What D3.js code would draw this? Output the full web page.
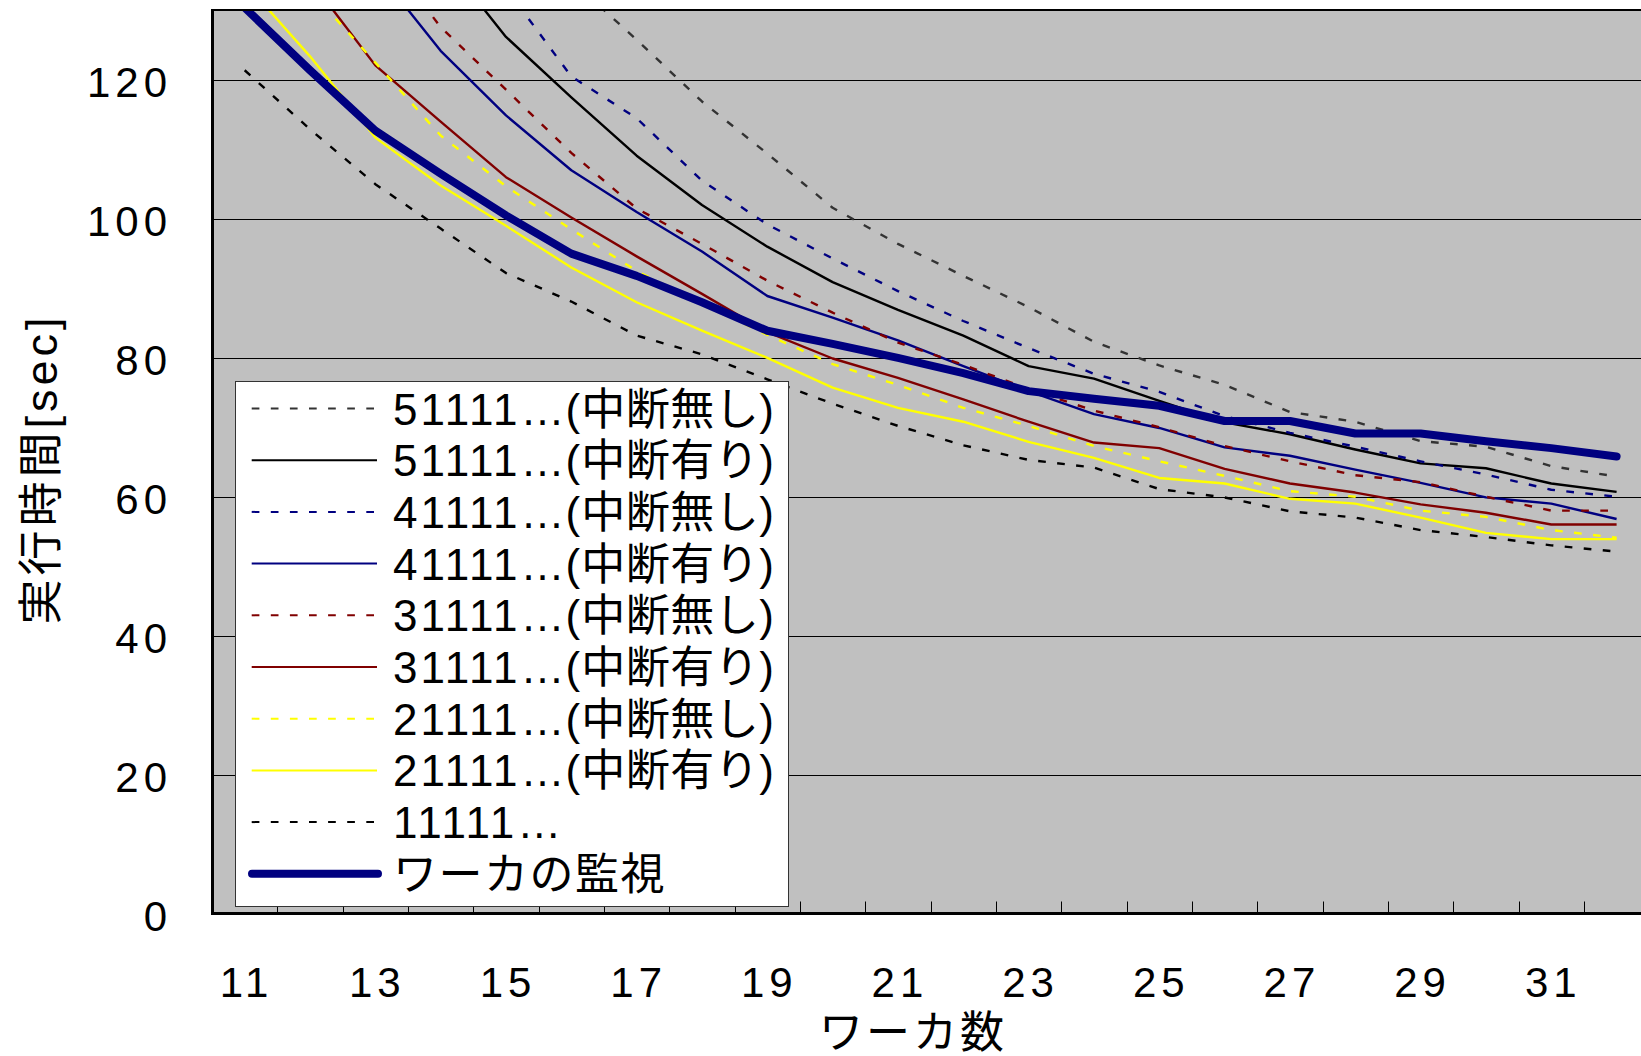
<!DOCTYPE html>
<html>
<head>
<meta charset="utf-8">
<script src="https://cdn.jsdelivr.net/npm/d3@7"></script>
<style>
  body { margin: 0; background: #fff; }
  svg { display: block; }
</style>
</head>
<body>
<svg id="chart" width="1641" height="1056"></svg>
<script>
// Worker counts on the category axis
const workers = [11, 12, 13, 14, 15, 16, 17, 18, 19, 20, 21, 22, 23, 24, 25, 26, 27, 28, 29, 30, 31, 32];
// Every other category carries a label
const xTickLabels = [11, 13, 15, 17, 19, 21, 23, 25, 27, 29, 31];
const yTickValues = [0, 20, 40, 60, 80, 100, 120];

// Execution time [sec] per worker count (null = not plotted)
const s51111NoStop = [null, null, null, null, null, 134.3, 125.8, 116.9, 109.4, 101.6, 96.4, 91.8, 87.3, 82.3, 78.9, 76.1, 72.2, 70.8, 68.0, 67.2, 64.4, 62.9];
const s51111Stop   = [null, null, null, 138.0, 126.2, 117.5, 109.1, 102.0, 96.0, 90.9, 86.9, 83.2, 78.8, 77.0, 73.8, 70.7, 69.0, 66.8, 64.8, 64.1, 61.9, 60.7];
const s41111NoStop = [null, null, null, null, 133.2, 120.5, 114.5, 105.5, 99.2, 94.3, 89.6, 85.3, 81.4, 77.7, 75.1, 71.6, 69.2, 67.2, 65.1, 63.2, 61.0, 60.0];
const s41111Stop   = [null, null, 136.0, 124.2, 114.9, 107.0, 101.0, 95.3, 88.9, 85.8, 82.5, 78.8, 75.2, 71.9, 69.9, 67.1, 65.9, 63.9, 62.0, 59.9, 59.0, 56.8];
const s31111NoStop = [null, null, 140.0, 127.6, 118.6, 109.5, 101.5, 96.4, 91.1, 86.5, 82.2, 79.0, 75.5, 72.4, 70.0, 67.3, 65.1, 63.1, 62.1, 60.0, 58.0, 58.0];
const s31111Stop   = [null, 134.4, 122.1, 114.0, 106.0, 100.2, 94.6, 89.2, 83.7, 79.9, 77.1, 74.0, 70.8, 67.8, 67.0, 64.0, 61.9, 60.6, 58.9, 57.7, 56.0, 56.0];
const s21111NoStop = [null, 132.9, 122.5, 112.0, 104.7, 98.5, 92.5, 87.8, 83.3, 79.1, 76.1, 72.8, 70.2, 67.3, 65.1, 63.0, 60.8, 60.0, 58.0, 57.1, 55.2, 54.1];
const s21111Stop   = [134.0, 123.4, 111.7, 104.8, 99.0, 93.0, 88.0, 83.9, 80.0, 75.7, 72.8, 70.8, 67.9, 65.6, 62.7, 61.9, 59.7, 59.0, 57.0, 54.8, 53.9, 53.9];
const s11111       = [121.4, 112.9, 105.0, 98.6, 92.2, 88.1, 83.2, 80.5, 76.9, 73.4, 70.2, 67.4, 65.3, 64.2, 61.1, 59.9, 57.9, 57.0, 55.2, 54.2, 53.0, 52.1];
const sMonitor     = [130.4, 121.4, 112.7, 106.5, 100.5, 95.0, 91.8, 88.0, 83.9, 82.0, 80.0, 77.8, 75.2, 74.1, 73.1, 70.9, 70.9, 69.1, 69.1, 68.0, 67.0, 65.8];

const seriesLabels = [
  "51111…(中断無し)", "51111…(中断有り)",
  "41111…(中断無し)", "41111…(中断有り)",
  "31111…(中断無し)", "31111…(中断有り)",
  "21111…(中断無し)", "21111…(中断有り)",
  "11111…", "ワーカの監視"
];
const seriesValues = [s51111NoStop, s51111Stop, s41111NoStop, s41111Stop, s31111NoStop,
                      s31111Stop, s21111NoStop, s21111Stop, s11111, sMonitor];

// Line styles, in drawing order
const DASH = "7.7,11.4";
const seriesStyles = [
  { color: "#333333", width: 2.4, dash: DASH },
  { color: "#000000", width: 2.4, dash: null },
  { color: "#000080", width: 2.4, dash: DASH },
  { color: "#000080", width: 2.4, dash: null },
  { color: "#800000", width: 2.4, dash: DASH },
  { color: "#800000", width: 2.4, dash: null },
  { color: "#ffff00", width: 2.4, dash: DASH },
  { color: "#ffff00", width: 2.4, dash: null },
  { color: "#000000", width: 2.4, dash: DASH },
  { color: "#000080", width: 8, dash: null, thick: true }
];

const series = seriesLabels.map((label, i) => ({
  label,
  style: seriesStyles[i],
  points: workers.map((w, j) => ({ w, v: seriesValues[i][j] }))
}));

const FONT = "'Liberation Sans', 'Noto Sans CJK JP', sans-serif";

const svg = d3.select("#chart");
const plotLeft = 212, plotTop = 10.5, plotBottom = 913.5;
const band = 65.33;
const plotRight = plotLeft + band * workers.length;

const x = d3.scaleBand().domain(workers).range([plotLeft, plotRight]).padding(0);
const xc = w => x(w) + x.bandwidth() / 2;
const y = d3.scaleLinear().domain([0, 130]).range([plotBottom, plotTop]);

// Plot background
svg.append("rect")
  .attr("x", plotLeft).attr("y", plotTop)
  .attr("width", plotRight - plotLeft).attr("height", plotBottom - plotTop)
  .attr("fill", "#c0c0c0");

// Value axis: gridlines and labels
const yAxis = svg.append("g")
  .attr("transform", `translate(${plotLeft},0)`)
  .call(d3.axisLeft(y).tickValues(yTickValues).tickSize(-(plotRight - plotLeft)).tickPadding(40));
yAxis.select(".domain").remove();
yAxis.selectAll(".tick line")
  .attr("stroke", "#000").attr("stroke-width", 1)
  .attr("shape-rendering", "crispEdges");
yAxis.selectAll(".tick text")
  .attr("dy", null).attr("y", 16.5)
  .attr("font-family", FONT).attr("font-size", 42)
  .attr("letter-spacing", 5).attr("fill", "#000");

// Category tick marks at band boundaries, pointing into the plot
svg.append("g").selectAll("line")
  .data(workers)
  .join("line")
  .attr("x1", d => Math.round(x(d)) + 0.5).attr("x2", d => Math.round(x(d)) + 0.5)
  .attr("y1", plotBottom - 12).attr("y2", plotBottom)
  .attr("stroke", "#000").attr("stroke-width", 1);

// Category labels
const xAxis = svg.append("g")
  .attr("transform", `translate(0,${plotBottom})`)
  .call(d3.axisBottom(x).tickValues(xTickLabels).tickSize(0));
xAxis.select(".domain").remove();
xAxis.selectAll(".tick text")
  .attr("dy", null).attr("y", 83.5).attr("x", 2)
  .attr("font-family", FONT).attr("font-size", 42)
  .attr("letter-spacing", 5).attr("fill", "#000");

// Series lines, clipped to the plot area
svg.append("clipPath").attr("id", "plotClip")
  .append("rect")
  .attr("x", plotLeft).attr("y", plotTop)
  .attr("width", plotRight - plotLeft).attr("height", plotBottom - plotTop);

const line = d3.line()
  .defined(d => d.v !== null)
  .x(d => xc(d.w))
  .y(d => y(d.v));

svg.append("g").attr("clip-path", "url(#plotClip)")
  .selectAll("path")
  .data(series)
  .join("path")
  .attr("d", d => line(d.points))
  .attr("fill", "none")
  .attr("stroke", d => d.style.color)
  .attr("stroke-width", d => d.style.width)
  .attr("stroke-dasharray", d => d.style.dash)
  .attr("stroke-linejoin", "round")
  .attr("stroke-linecap", d => d.style.thick ? "round" : "butt");

// Plot frame and axis lines
svg.append("line").attr("x1", plotLeft).attr("x2", plotRight)
  .attr("y1", 10).attr("y2", 10).attr("stroke", "#000").attr("stroke-width", 2);
svg.append("line").attr("x1", plotLeft + 0.5).attr("x2", plotLeft + 0.5)
  .attr("y1", 9).attr("y2", plotBottom + 1.5).attr("stroke", "#000").attr("stroke-width", 3);
svg.append("line").attr("x1", plotLeft - 1).attr("x2", plotRight)
  .attr("y1", plotBottom).attr("y2", plotBottom).attr("stroke", "#000").attr("stroke-width", 3);

// Legend
const lg = svg.append("g");
lg.append("rect")
  .attr("x", 235.5).attr("y", 381.5).attr("width", 553).attr("height", 525)
  .attr("fill", "#fff").attr("stroke", "#333").attr("stroke-width", 1);

const rowY = i => 408.5 + i * 51.7;
const rows = lg.selectAll("g.row").data(series).join("g").attr("class", "row");

rows.append("line")
  .attr("x1", d => d.style.thick ? 252 : 251.7)
  .attr("x2", d => d.style.thick ? 378 : 377)
  .attr("y1", (d, i) => rowY(i)).attr("y2", (d, i) => rowY(i))
  .attr("stroke", d => d.style.color)
  .attr("stroke-width", d => d.style.thick ? d.style.width : 2)
  .attr("stroke-dasharray", d => d.style.dash)
  .attr("stroke-linecap", d => d.style.thick ? "round" : "butt");

const labelText = rows.append("text")
  .attr("x", 393).attr("y", (d, i) => rowY(i) + 16)
  .attr("font-family", FONT).attr("font-size", 44).attr("fill", "#000");
labelText.each(function (d) {
  const m = d.label.match(/^([0-9]*)(…?\(?)(.*)$/);
  const t = d3.select(this);
  if (m[1]) t.append("tspan").attr("letter-spacing", 3).text(m[1]);
  if (m[2]) t.append("tspan").attr("letter-spacing", 1).text(m[2]);
  if (m[3]) t.append("tspan").attr("letter-spacing", m[1] ? 0.5 : 1.5).text(m[3]);
});

// Axis titles
svg.append("text")
  .attr("transform", "translate(57,469) rotate(-90)")
  .attr("text-anchor", "middle")
  .attr("font-family", FONT).attr("font-size", 45)
  .attr("letter-spacing", 4).attr("fill", "#000")
  .text("実行時間[sec]");

svg.append("text")
  .attr("x", 913).attr("y", 1048)
  .attr("text-anchor", "middle")
  .attr("font-family", FONT).attr("font-size", 44)
  .attr("letter-spacing", 3).attr("fill", "#000")
  .text("ワーカ数");
</script>
</body>
</html>
